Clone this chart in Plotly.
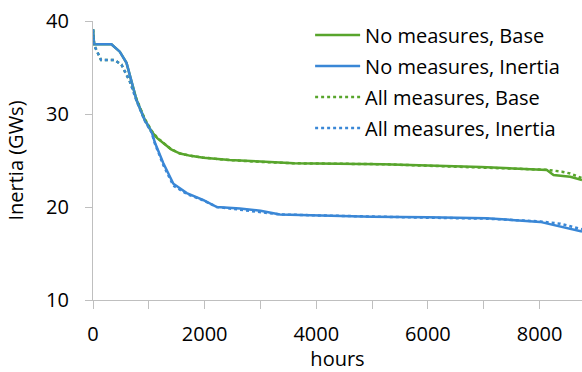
import plotly.graph_objects as go

# ---- data ----
hours_no_base = [0, 20, 330, 480, 600, 780, 925, 1050, 1150, 1260, 1400, 1560, 1750, 1980, 2450, 3000, 3600,
                 5200, 6000, 6950, 8130, 8250, 8550, 8760]
no_base = [39.1, 37.5, 37.5, 36.7, 35.5, 31.5, 29.4, 28.1, 27.4, 26.85, 26.2, 25.75, 25.5, 25.3, 25.05, 24.9, 24.7,
           24.6, 24.45, 24.3, 23.98, 23.45, 23.25, 22.9]

hours_no_inertia = [0, 20, 330, 480, 600, 780, 925, 1050, 1110, 1260, 1440, 1680, 1980, 2220,
                    2630, 3000, 3350, 4000, 5000, 6000, 7050, 8010, 8370, 8550, 8760]
no_inertia = [39.1, 37.5, 37.5, 36.7, 35.5, 31.5, 29.4, 28.1, 26.9, 24.7, 22.5, 21.5, 20.75, 20.0,
              19.85, 19.6, 19.2, 19.1, 18.95, 18.9, 18.8, 18.4, 17.9, 17.6, 17.35]

hours_all_base = [0, 20, 145, 390, 510, 660, 780, 925, 1050, 1150, 1260, 1400, 1560, 1750, 1980, 2450, 3000, 3600,
                  5200, 6000, 6950, 8130, 8400, 8550, 8760]
all_base = [39.1, 37.4, 35.8, 35.8, 35.3, 33.5, 31.6, 29.5, 28.2, 27.45, 26.9, 26.2, 25.75, 25.5, 25.3, 25.05, 24.85, 24.7,
            24.6, 24.45, 24.3, 24.0, 23.8, 23.6, 23.1]

hours_all_inertia = [0, 20, 145, 390, 510, 660, 780, 925, 1050, 1110, 1260, 1440, 1680, 1980, 2220,
                     2630, 3000, 3350, 4000, 5000, 6000, 7050, 8010, 8370, 8550, 8760]
all_inertia = [39.1, 37.4, 35.8, 35.8, 35.3, 33.5, 31.4, 29.3, 28.0, 26.8, 24.5, 22.3, 21.4, 20.7, 20.0,
               19.7, 19.5, 19.2, 19.1, 18.95, 18.85, 18.75, 18.45, 18.2, 17.9, 17.6]

GREEN = "#58A52C"
BLUE = "#3A87D6"
FONT = "Open Sans"

series = [
    ("No measures, Base", hours_no_base, no_base, GREEN, "solid"),
    ("No measures, Inertia", hours_no_inertia, no_inertia, BLUE, "solid"),
    ("All measures, Base", hours_all_base, all_base, GREEN, "dot"),
    ("All measures, Inertia", hours_all_inertia, all_inertia, BLUE, "dot"),
]

fig = go.Figure()
for i, (name, xs, ys, col, dash) in enumerate(series):
    fig.add_trace(go.Scatter(x=xs, y=ys, mode="lines", name=name, legendgroup=f"g{i}",
                             line=dict(color=col, width=2.5, dash=dash)))

axis_col = "#BFBFBF"
fig.update_layout(
    width=582, height=372,
    margin=dict(l=93, r=0, t=21, b=72),
    paper_bgcolor="white", plot_bgcolor="white",
    font=dict(family=FONT, size=20, color="#000000"),
    showlegend=True,
    legend=dict(x=0.444, y=1.02, xanchor="left", yanchor="top", tracegroupgap=2,
                itemwidth=45,
                bgcolor="rgba(0,0,0,0)", font=dict(size=20, family=FONT)),
    xaxis=dict(range=[0, 8760], tick0=0, dtick=2000, showgrid=False, zeroline=False,
               showline=True, linecolor=axis_col, linewidth=1.3,
               ticks="outside", ticklen=8, tickcolor=axis_col, tickwidth=1.3,
               ticklabelstandoff=8,
               minor=dict(dtick=1000, ticks="outside", ticklen=8, tickcolor=axis_col, tickwidth=1.3),
               title=dict(text="hours", standoff=2, font=dict(size=20))),
    yaxis=dict(range=[10, 40], tick0=10, dtick=10, showgrid=False, zeroline=False,
               showline=True, linecolor=axis_col, linewidth=1.3,
               ticks="outside", ticklen=7, tickcolor=axis_col, tickwidth=1.3,
               ticklabelstandoff=12,
               title=dict(text="Inertia (GWs)", standoff=16, font=dict(size=20))),
)

fig.write_html("out.html")
